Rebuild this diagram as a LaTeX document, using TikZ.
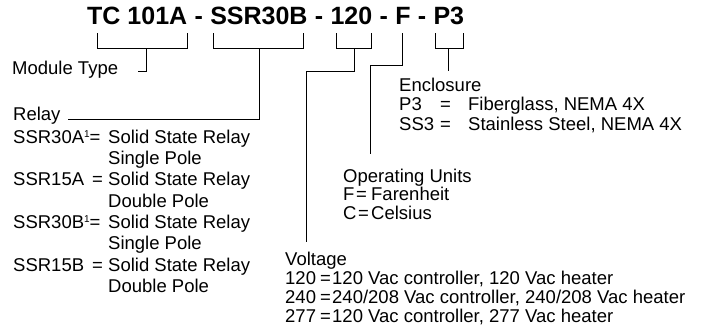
\documentclass[tikz,border=0pt]{standalone}
\usepackage{fontspec}
\setmainfont{Liberation Sans}
\usetikzlibrary{positioning}

\begin{document}
\begin{tikzpicture}[x=1pt,y=-1pt,
    part/.style={inner sep=0pt,anchor=base west,font=\bfseries\fontsize{25}{25}\selectfont},
    note/.style={inner sep=0pt,anchor=base west,font=\fontsize{18.5}{19.5}\selectfont},
    notelist/.style={inner sep=0pt,align=left,anchor=north west,font=\fontsize{18.5}{#1}\selectfont},
    lead/.style={line width=1pt}]
    \useasboundingbox (0,0) rectangle (706,336);

    % Part number
    \node[part] (tc) at (87,25) {TC 101A};
    \node[part] (d1) at (tc.base east) {\hbox{\ -\ }};
    \node[part] (ssr) at (d1.base east) {SSR30B};
    \node[part] (d2) at (ssr.base east) {\hbox{\ -\ }};
    \node[part] (volt) at (d2.base east) {120};
    \node[part] (d3) at (volt.base east) {\hbox{\ -\ }};
    \node[part] (unit) at (d3.base east) {F};
    \node[part] (d4) at (unit.base east) {\hbox{\ -\ }};
    \node[part] (encl) at (d4.base east) {P3};

    % Brackets under the parts
    \draw[lead] ([xshift=10pt,yshift=-8pt]tc.south west) -- ++(0,15) -| ([yshift=-8pt]tc.south east);
    \draw[lead] ([xshift=3pt,yshift=-8pt]ssr.south west) -- ++(0,15) -| ([xshift=-4pt,yshift=-8pt]ssr.south east);
    \draw[lead] ([xshift=6pt,yshift=-8pt]volt.south west) -- ++(0,15) -| ([xshift=-1pt,yshift=-8pt]volt.south east);
    \draw[lead] ([xshift=2pt,yshift=-8pt]encl.south west) -- ++(0,15) -| ([xshift=-1pt,yshift=-8pt]encl.south east);
    \coordinate (tcstem) at ([xshift=9pt,yshift=-23pt]tc.south);
    \coordinate (ssrstem) at ([xshift=0.5pt,yshift=-23pt]ssr.south);
    \coordinate (voltstem) at ([xshift=3pt,yshift=-23pt]volt.south);
    \coordinate (unitstem) at ([yshift=-8pt]unit.south);
    \coordinate (enclstem) at ([yshift=-23pt]encl.south);

    % Labels
    \node[note] (modtype) at (12,75) {Module Type};
    \node[note] (relay) at (13,121) {Relay};
    \node[notelist=21.3] (relaylist) at (13,129.7) {%
        \makebox[95pt][l]{SSR30A\raisebox{6pt}{\fontsize{10}{10}\selectfont 1}=}Solid State Relay\\
        \hspace*{95pt}Single Pole\\
        \makebox[79pt][l]{SSR15A}\makebox[16pt][l]{=}Solid State Relay\\
        \hspace*{95pt}Double Pole\\
        \makebox[95pt][l]{SSR30B\raisebox{6pt}{\fontsize{10}{10}\selectfont 1}=}Solid State Relay\\
        \hspace*{95pt}Single Pole\\
        \makebox[79pt][l]{SSR15B}\makebox[16pt][l]{=}Solid State Relay\\
        \hspace*{95pt}Double Pole};
    \node[notelist=19.5] (encllist) at (399,77.7) {%
        Enclosure\\
        \makebox[41pt][l]{P3}\makebox[28pt][l]{=}Fiberglass, NEMA 4X\\
        \makebox[41pt][l]{SS3}\makebox[28pt][l]{=}Stainless Steel, NEMA 4X};
    \node[notelist=18.5] (unitlist) at (343,168.7) {%
        Operating Units\\
        \makebox[13pt][l]{F}\makebox[15pt][l]{=}Farenheit\\
        \makebox[15pt][l]{C}\makebox[13pt][l]{=}Celsius};
    \node[notelist=19] (voltlist) at (285,251.7) {%
        Voltage\\
        \makebox[35pt][l]{120}\makebox[12pt][l]{=}120 Vac controller, 120 Vac heater\\
        \makebox[35pt][l]{240}\makebox[12pt][l]{=}240/208 Vac controller, 240/208 Vac heater\\
        \makebox[35pt][l]{277}\makebox[12pt][l]{=}120 Vac controller, 277 Vac heater};

    % Leaders to the labels
    \draw[lead] (tcstem) |- ([xshift=20pt,yshift=3pt]modtype.base east);
    \draw[lead] (ssrstem) |- ([xshift=7pt,yshift=1pt]relay.base east);
    \draw[lead] (voltstem) -- ++(0,23) -| ([xshift=21pt,yshift=10pt]voltlist.north west);
    \draw[lead] (unitstem) -- ++(0,32) -| ([xshift=27pt,yshift=15pt]unitlist.north west);
    \draw[lead] (enclstem) -- ++(0,23);
\end{tikzpicture}
\end{document}
